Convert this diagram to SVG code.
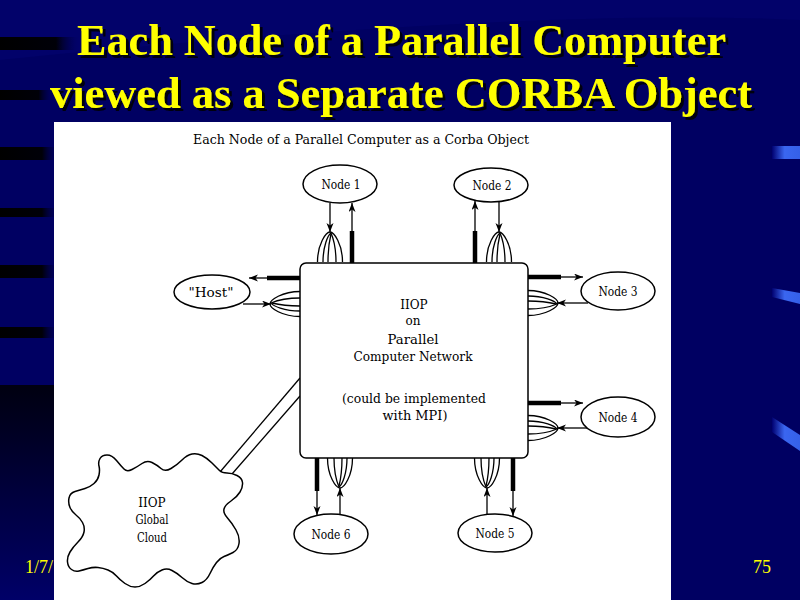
<svg xmlns="http://www.w3.org/2000/svg" xmlns:xlink="http://www.w3.org/1999/xlink" width="800" height="600" viewBox="0 0 800 600">
<style>
.title{font-family:"Liberation Serif","Times New Roman",serif;font-weight:bold;font-size:44px;text-anchor:middle;fill:#ffff00;filter:url(#shadow)}
.foot{font-family:"Liberation Serif","Times New Roman",serif;font-size:18px;fill:#ffff00}
.lbl{font-family:"DejaVu Serif","Liberation Serif",serif;font-size:12px;fill:#000;text-anchor:middle}
.node{fill:#fff;stroke:#000;stroke-width:1.5}
.thin{stroke:#000;stroke-width:1.3;fill:none}
.thick{stroke:#000;stroke-width:4.5;fill:none}
.loop{stroke:#000;stroke-width:1.3;fill:none}
.arr{stroke:#000;stroke-width:1.3;fill:none;marker-end:url(#ah)}
</style>
<defs>
<filter id="shadow" x="-5%" y="-20%" width="110%" height="150%">
<feDropShadow dx="3" dy="3" stdDeviation="0.6" flood-color="#000010" flood-opacity="1"/>
</filter>
<marker id="ah" markerUnits="userSpaceOnUse" markerWidth="10" markerHeight="8" refX="9" refY="3.5" orient="auto">
<path d="M0,0 L9,3.5 L0,7 L2.5,3.5 Z" fill="#000"/>
</marker>
<g id="twist" class="loop">
<path d="M-12.5,30 C-12.5,12 -4,0 0,0 C4,0 12.5,12 12.5,30"/>
<path d="M-7,30 C-7,14 -2,3 1,1 C4,8 6,18 6,30"/>
<path d="M-2,30 C-2,18 0,6 1,2"/>
</g>
<linearGradient id="stripeL" x1="0" y1="0" x2="1" y2="0">
<stop offset="0" stop-color="#000000"/>
<stop offset="0.7" stop-color="#000008"/>
<stop offset="1" stop-color="#000060" stop-opacity="0"/>
</linearGradient>
<linearGradient id="darkBL" x1="0" y1="0" x2="0" y2="1">
<stop offset="0" stop-color="#000010"/>
<stop offset="1" stop-color="#000068"/>
</linearGradient>
<linearGradient id="blueAcc" x1="0" y1="0" x2="1" y2="0">
<stop offset="0" stop-color="#000070"/>
<stop offset="0.45" stop-color="#3a66f0"/>
<stop offset="1" stop-color="#3560e8"/>
</linearGradient>
</defs>

<!-- background -->
<rect x="0" y="0" width="800" height="600" fill="#000062"/>
<path d="M0,0 H800 V20 C600,10 300,30 0,60 Z" fill="#040470" opacity="0.6"/>
<rect x="0" y="37" width="80" height="13" fill="url(#stripeL)"/>
<rect x="0" y="90" width="55" height="10" fill="url(#stripeL)"/>
<rect x="0" y="147" width="60" height="13" fill="url(#stripeL)"/>
<rect x="0" y="208" width="60" height="9" fill="url(#stripeL)"/>
<rect x="0" y="265" width="60" height="13" fill="url(#stripeL)"/>
<rect x="0" y="327" width="60" height="11" fill="url(#stripeL)"/>
<rect x="0" y="385" width="60" height="215" fill="url(#darkBL)"/>
<rect x="772" y="146" width="28" height="13" fill="url(#blueAcc)"/>
<polygon points="772,288 800,293 800,304 772,297" fill="url(#blueAcc)"/>
<polygon points="772,417 800,435 800,451 772,432" fill="url(#blueAcc)"/>

<!-- slide title -->
<g id="slide-title">
<text class="title" x="401.5" y="55" textLength="649" lengthAdjust="spacingAndGlyphs">Each Node of a Parallel Computer</text>
<text class="title" x="401" y="108" textLength="702" lengthAdjust="spacingAndGlyphs">viewed as a Separate CORBA Object</text>
</g>

<text class="foot" x="25" y="573">1/7/</text>
<text class="foot" x="753" y="573">75</text>

<!-- white panel -->
<rect x="54" y="122" width="617" height="478" fill="#ffffff"/>

<text class="lbl" x="361" y="144" font-size="11" textLength="336" lengthAdjust="spacingAndGlyphs">Each Node of a Parallel Computer as a Corba Object</text>

<!-- connectors -->
<g id="connectors">
<!-- Node 1 -->
<line class="arr" x1="330" y1="203" x2="330" y2="232"/>
<use xlink:href="#twist" transform="translate(330,232)"/>
<line class="thick" x1="352" y1="263" x2="352" y2="231"/>
<line class="arr" x1="352" y1="232" x2="352" y2="203"/>
<!-- Node 2 -->
<line class="arr" x1="499" y1="202" x2="499" y2="232"/>
<use xlink:href="#twist" transform="translate(499,232)"/>
<line class="thick" x1="475" y1="263" x2="475" y2="231"/>
<line class="arr" x1="475" y1="232" x2="475" y2="201"/>
<!-- Host -->
<line class="thick" x1="300" y1="278" x2="267" y2="278"/>
<line class="arr" x1="268" y1="278" x2="249" y2="278"/>
<line class="arr" x1="243" y1="304" x2="271" y2="304"/>
<use xlink:href="#twist" transform="translate(270,304) rotate(-90)"/>
<!-- Node 3 -->
<line class="thick" x1="528" y1="277" x2="561" y2="277"/>
<line class="arr" x1="560" y1="277" x2="583" y2="277"/>
<line class="arr" x1="588" y1="303" x2="557" y2="303"/>
<use xlink:href="#twist" transform="translate(558,303) rotate(90)"/>
<!-- Node 4 -->
<line class="thick" x1="528" y1="403" x2="561" y2="403"/>
<line class="arr" x1="560" y1="403" x2="583" y2="403"/>
<line class="arr" x1="588" y1="428" x2="557" y2="428"/>
<use xlink:href="#twist" transform="translate(558,428) rotate(90)"/>
<!-- Node 5 -->
<line class="arr" x1="487" y1="515" x2="487" y2="488"/>
<use xlink:href="#twist" transform="translate(487,488) rotate(180)"/>
<line class="thick" x1="513" y1="458" x2="513" y2="491"/>
<line class="arr" x1="513" y1="490" x2="513" y2="516"/>
<!-- Node 6 -->
<line class="arr" x1="340" y1="515" x2="340" y2="488"/>
<use xlink:href="#twist" transform="translate(340,488) rotate(180)"/>
<line class="thick" x1="317" y1="458" x2="317" y2="491"/>
<line class="arr" x1="317" y1="490" x2="317" y2="515"/>
<!-- cloud link -->
<line class="thin" x1="300" y1="378" x2="220" y2="472"/>
<line class="thin" x1="300" y1="396" x2="232" y2="474"/>
</g>

<!-- central network box -->
<g id="network">
<rect x="300" y="263" width="228" height="195" rx="6" ry="6" class="node"/>
<text class="lbl" x="414" y="309" font-size="12.5">IIOP</text>
<text class="lbl" x="413" y="325" font-size="12.5">on</text>
<text class="lbl" x="413" y="344" font-size="14" textLength="51" lengthAdjust="spacingAndGlyphs">Parallel</text>
<text class="lbl" x="413" y="361" font-size="12.5" textLength="119" lengthAdjust="spacingAndGlyphs">Computer Network</text>
<text class="lbl" x="414" y="403" font-size="12.5" textLength="144" lengthAdjust="spacingAndGlyphs">(could be implemented</text>
<text class="lbl" x="415" y="420" font-size="12.5" textLength="65" lengthAdjust="spacingAndGlyphs">with MPI)</text>
</g>

<g id="node1">
<ellipse cx="340" cy="184" rx="37" ry="19" class="node"/>
<text class="lbl" x="341" y="189" font-size="13" textLength="39" lengthAdjust="spacingAndGlyphs">Node 1</text>
</g>
<g id="node2">
<ellipse cx="491" cy="185" rx="37" ry="17" class="node"/>
<text class="lbl" x="492" y="190" font-size="13" textLength="39" lengthAdjust="spacingAndGlyphs">Node 2</text>
</g>
<g id="host">
<ellipse cx="212" cy="292" rx="38" ry="17" class="node"/>
<text class="lbl" x="211" y="297" font-size="13" textLength="45" lengthAdjust="spacingAndGlyphs">"Host"</text>
</g>
<g id="node3">
<ellipse cx="618" cy="291" rx="37" ry="19" class="node"/>
<text class="lbl" x="618" y="296" font-size="13" textLength="39" lengthAdjust="spacingAndGlyphs">Node 3</text>
</g>
<g id="node4">
<ellipse cx="618" cy="417" rx="37" ry="20" class="node"/>
<text class="lbl" x="618" y="422" font-size="13" textLength="39" lengthAdjust="spacingAndGlyphs">Node 4</text>
</g>
<g id="node5">
<ellipse cx="495" cy="533" rx="37" ry="19" class="node"/>
<text class="lbl" x="495" y="538" font-size="13" textLength="39" lengthAdjust="spacingAndGlyphs">Node 5</text>
</g>
<g id="node6">
<ellipse cx="331" cy="534" rx="37" ry="20" class="node"/>
<text class="lbl" x="331" y="539" font-size="13" textLength="39" lengthAdjust="spacingAndGlyphs">Node 6</text>
</g>

<g id="cloud">
<path class="node" d="M100,458.5 Q102,455 107,455 Q112,455 116.5,460.5 Q121,466 124,469 Q127,472 132,469.5 Q137,467 142,463.5 Q147,460 152,462.5 Q157,465 161,468.5 Q165,472 171,468.5 Q177,465 182,460 Q187,455 192,454 Q197,453 202,455.5 Q207,458 212,463 Q217,468 219.5,470.5 Q222,473 227,473 Q232,473 237,475.5 Q242,478 242.5,482.5 Q243,487 240,492 Q237,497 231,501 Q225,505 224,509 Q223,513 227.5,518 Q232,523 236,530 Q240,537 239,543.5 Q238,550 233,552.5 Q228,555 224,556.5 Q220,558 216.5,562.5 Q213,567 210,573.5 Q207,580 202,582.5 Q197,585 192,583.5 Q187,582 182,577.5 Q177,573 172,570.5 Q167,568 162,570 Q157,572 153.5,576 Q150,580 145,583.5 Q140,587 135,587 Q130,587 125,583.5 Q120,580 116.5,576 Q113,572 108,570 Q103,568 98,567.5 Q93,567 88,568.5 Q83,570 79,571 Q75,572 71.5,569.5 Q68,567 67.5,562 Q67,557 70,552 Q73,547 78,542 Q83,537 84,532 Q85,527 82.5,522.5 Q80,518 76,515 Q72,512 70,507.5 Q68,503 69,498 Q70,493 75,491.5 Q80,490 85,488.5 Q90,487 94,483.5 Q98,480 99,475 Q100,470 99,466 Q98,462 100,458.5 Z"/>
<text class="lbl" x="152" y="507" font-size="12.5">IIOP</text>
<text class="lbl" x="152" y="524" font-size="12.5" textLength="33" lengthAdjust="spacingAndGlyphs">Global</text>
<text class="lbl" x="152" y="542" font-size="12.5" textLength="30" lengthAdjust="spacingAndGlyphs">Cloud</text>
</g>
</svg>
